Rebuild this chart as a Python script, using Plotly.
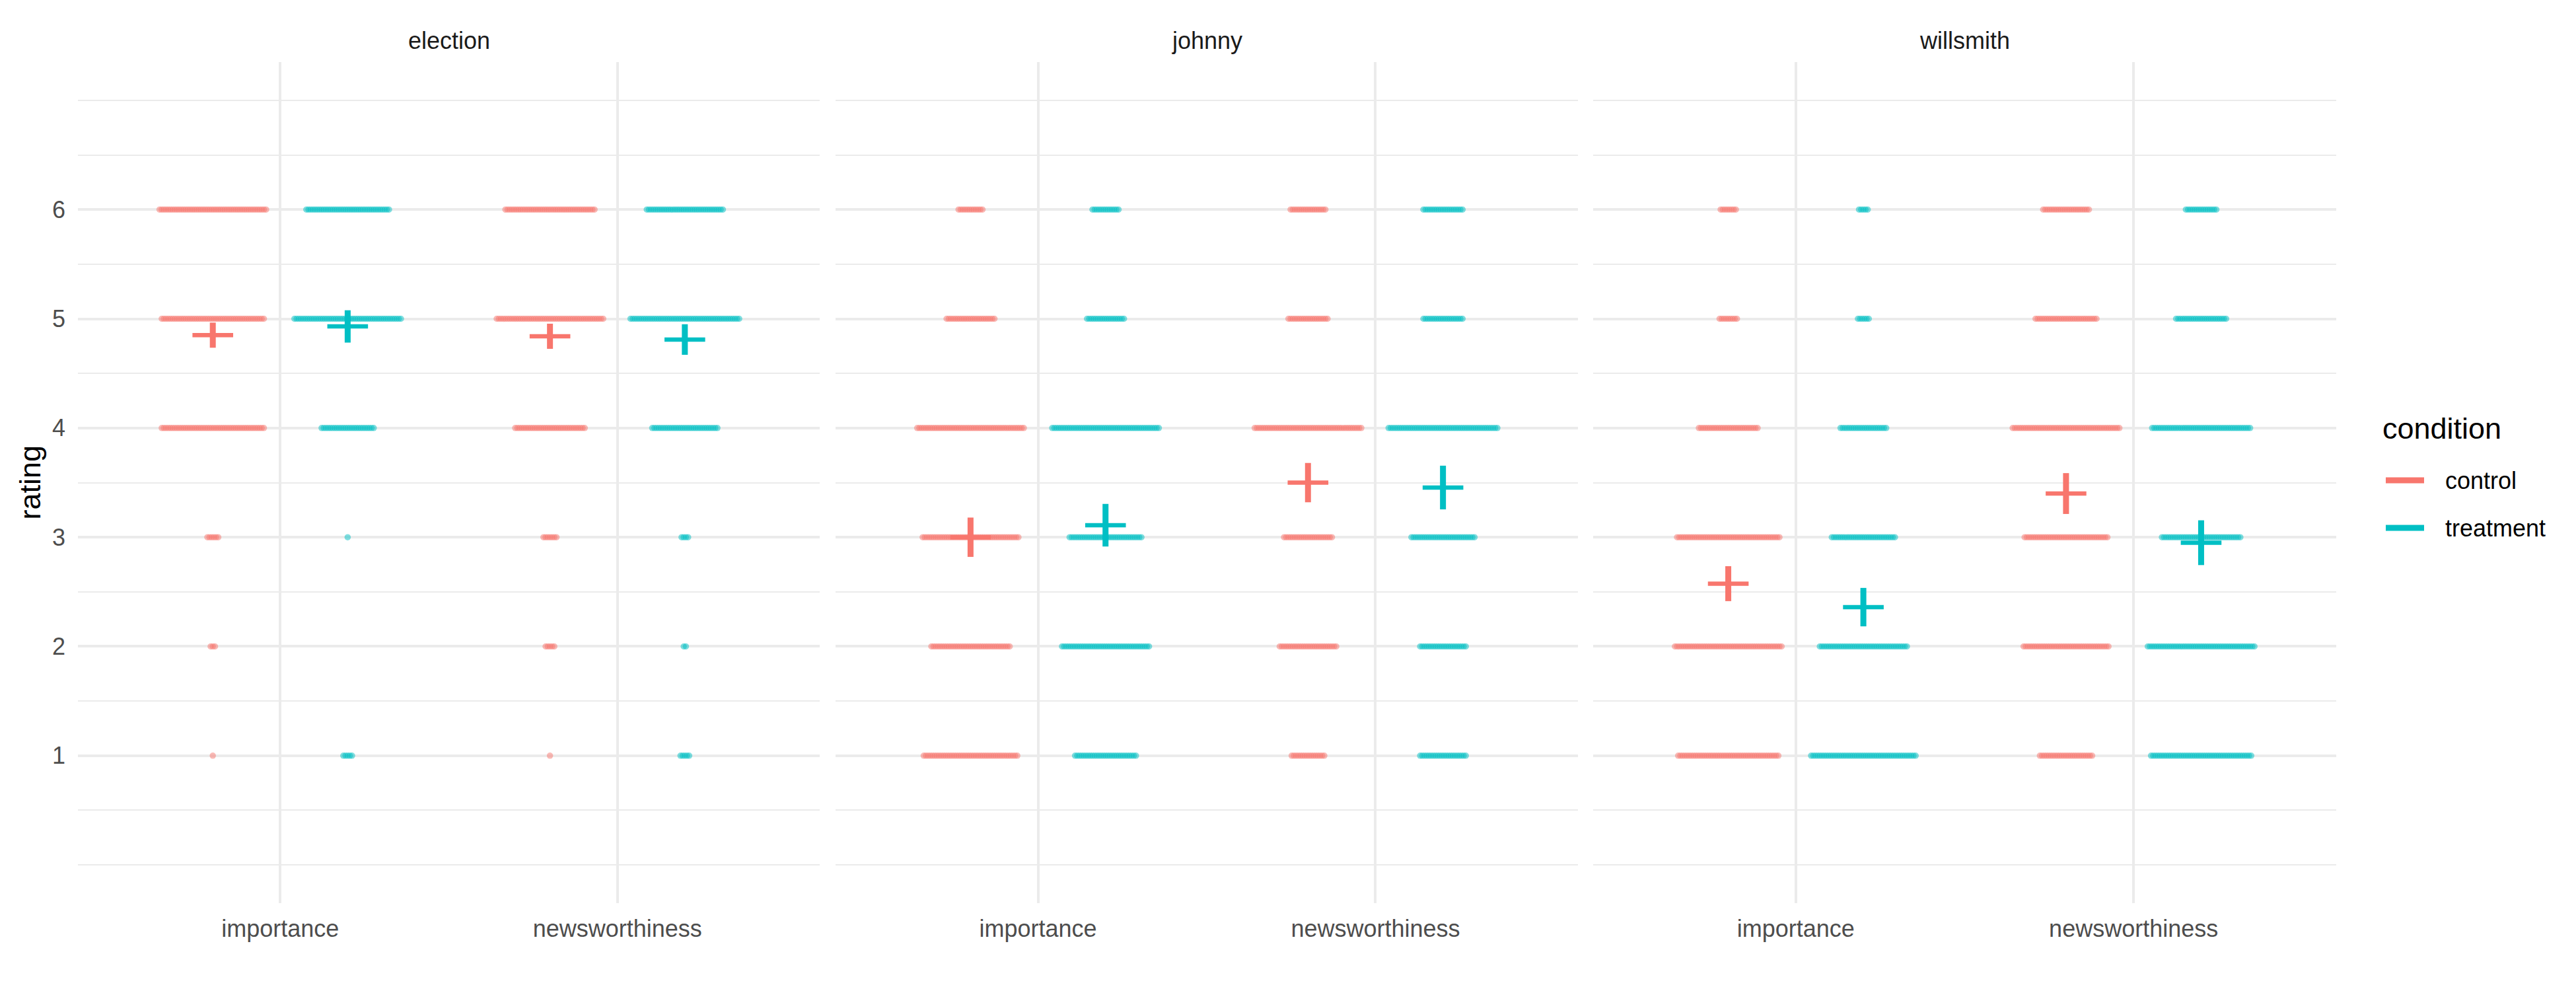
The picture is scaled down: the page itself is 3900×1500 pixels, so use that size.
import plotly.graph_objects as go

# ---------------- data ----------------
TOPICS = ["election", "johnny", "willsmith"]
MEASURES = ["importance", "newsworthiness"]
CONDITIONS = ["control", "treatment"]
RATINGS = [1, 2, 3, 4, 5, 6]

# number of respondents giving each rating 1..6
election_control_importance = [1, 3, 6, 48, 48, 50]
election_treatment_importance = [5, 0, 1, 25, 50, 39]
election_control_newsworthiness = [1, 5, 7, 33, 50, 42]
election_treatment_newsworthiness = [5, 2, 4, 31, 51, 36]

johnny_control_importance = [44, 37, 45, 50, 23, 12]
johnny_treatment_importance = [29, 41, 34, 50, 18, 13]
johnny_control_newsworthiness = [16, 27, 23, 50, 19, 17]
johnny_treatment_newsworthiness = [22, 22, 30, 51, 19, 19]

willsmith_control_importance = [47, 50, 48, 28, 9, 8]
willsmith_treatment_importance = [49, 41, 30, 22, 6, 5]
willsmith_control_newsworthiness = [25, 40, 39, 50, 29, 22]
willsmith_treatment_newsworthiness = [47, 50, 37, 46, 24, 15]

# mean rating and interval half-width, order: [importance, newsworthiness]
election_control_mean = [4.85, 4.84]
election_treatment_mean = [4.93, 4.81]
johnny_control_mean = [3.00, 3.50]
johnny_treatment_mean = [3.11, 3.455]
willsmith_control_mean = [2.575, 3.40]
willsmith_treatment_mean = [2.36, 2.95]

election_control_ci = [0.115, 0.115]
election_treatment_ci = [0.148, 0.14]
johnny_control_ci = [0.18, 0.18]
johnny_treatment_ci = [0.195, 0.20]
willsmith_control_ci = [0.16, 0.187]
willsmith_treatment_ci = [0.176, 0.205]

COUNTS = {
    ("election", "control", "importance"): election_control_importance,
    ("election", "treatment", "importance"): election_treatment_importance,
    ("election", "control", "newsworthiness"): election_control_newsworthiness,
    ("election", "treatment", "newsworthiness"): election_treatment_newsworthiness,
    ("johnny", "control", "importance"): johnny_control_importance,
    ("johnny", "treatment", "importance"): johnny_treatment_importance,
    ("johnny", "control", "newsworthiness"): johnny_control_newsworthiness,
    ("johnny", "treatment", "newsworthiness"): johnny_treatment_newsworthiness,
    ("willsmith", "control", "importance"): willsmith_control_importance,
    ("willsmith", "treatment", "importance"): willsmith_treatment_importance,
    ("willsmith", "control", "newsworthiness"): willsmith_control_newsworthiness,
    ("willsmith", "treatment", "newsworthiness"): willsmith_treatment_newsworthiness,
}
MEANS = {
    ("election", "control"): election_control_mean,
    ("election", "treatment"): election_treatment_mean,
    ("johnny", "control"): johnny_control_mean,
    ("johnny", "treatment"): johnny_treatment_mean,
    ("willsmith", "control"): willsmith_control_mean,
    ("willsmith", "treatment"): willsmith_treatment_mean,
}
CIS = {
    ("election", "control"): election_control_ci,
    ("election", "treatment"): election_treatment_ci,
    ("johnny", "control"): johnny_control_ci,
    ("johnny", "treatment"): johnny_treatment_ci,
    ("willsmith", "control"): willsmith_control_ci,
    ("willsmith", "treatment"): willsmith_treatment_ci,
}

# ---------------- style ----------------
COLORS = {"control": "#F8766D", "treatment": "#00BFC4"}
DODGE = {"control": -0.2, "treatment": 0.2}
SPACING = 0.00645          # horizontal spacing of points (x units)
FONT = "Liberation Sans, Arial, sans-serif"
GRID = "#EBEBEB"
SMALL, BIG = 36, 45

OFF = 8                    # page body margin
W, H = 3900 - OFF, 1500 - OFF
ML, MT = 118 - OFF, 94 - OFF
MR = W - (3537 - OFF)
MB = H - (1367 - OFF)
PW = W - ML - MR
PH = H - MT - MB
panel_px = [(118, 1241), (1265, 2389), (2412, 3537)]
domains = [[(a - 118) / PW, (b - 118) / PW] for a, b in panel_px]
domains[-1][1] = 1.0


def px_x(v):
    return (v - 118) / PW


def px_y(v):
    return (1367 - v) / PH


fig = go.Figure()

for p, topic in enumerate(TOPICS):
    xa = "x" if p == 0 else f"x{p+1}"
    ya = "y" if p == 0 else f"y{p+1}"
    # individual ratings
    for cond in CONDITIONS:
        xs, ys = [], []
        for m, meas in enumerate(MEASURES):
            counts = COUNTS[(topic, cond, meas)]
            center = (m + 1) + DODGE[cond]
            for r, n in zip(RATINGS, counts):
                for i in range(n):
                    xs.append(center + (i - (n - 1) / 2) * SPACING)
                    ys.append(r)
        fig.add_trace(go.Scatter(
            x=xs, y=ys, mode="markers", xaxis=xa, yaxis=ya, showlegend=False,
            marker=dict(size=9.5, color=COLORS[cond], opacity=0.5, line=dict(width=0)),
            hoverinfo="skip"))
    # mean + interval crosses
    for cond in CONDITIONS:
        fig.add_trace(go.Scatter(
            x=[(m + 1) + DODGE[cond] for m in range(len(MEASURES))],
            y=MEANS[(topic, cond)],
            mode="markers", xaxis=xa, yaxis=ya, showlegend=False,
            marker=dict(symbol="line-ew", size=44, color=COLORS[cond],
                        line=dict(width=6.5, color=COLORS[cond])),
            error_y=dict(type="data", array=CIS[(topic, cond)], symmetric=True,
                         color=COLORS[cond], thickness=9, width=0)))

    axis_x = dict(domain=domains[p], range=[0.4, 2.6], tickmode="array",
                  tickvals=[1, 2], ticktext=MEASURES, showgrid=True, gridcolor=GRID,
                  gridwidth=4, zeroline=False, showline=False, ticks="",
                  tickfont=dict(family=FONT, size=SMALL, color="#4D4D4D"),
                  ticklabelstandoff=14, anchor=ya)
    axis_y = dict(range=[-0.35, 7.35], tickmode="array", tickvals=RATINGS,
                  showgrid=True, gridcolor=GRID, gridwidth=4, zeroline=False,
                  showline=False, ticks="", anchor=xa,
                  minor=dict(tickmode="array",
                             tickvals=[0, 0.5, 1.5, 2.5, 3.5, 4.5, 5.5, 6.5, 7],
                             showgrid=True, gridcolor=GRID, gridwidth=2),
                  tickfont=dict(family=FONT, size=SMALL, color="#4D4D4D"),
                  ticklabelstandoff=18, showticklabels=(p == 0))
    if p > 0:
        axis_y["matches"] = "y"
    fig.update_layout(**{("xaxis" if p == 0 else f"xaxis{p+1}"): axis_x,
                         ("yaxis" if p == 0 else f"yaxis{p+1}"): axis_y})
    # facet strip title
    fig.add_annotation(x=sum(domains[p]) / 2, y=px_y(61), xref="paper",
                       yref="paper", text=topic, showarrow=False,
                       font=dict(family=FONT, size=SMALL, color="#1A1A1A"),
                       xanchor="center", yanchor="middle")

# y axis title
fig.add_annotation(x=px_x(45), y=0.5, xref="paper", yref="paper",
                   text="rating", textangle=-90, showarrow=False,
                   font=dict(family=FONT, size=BIG, color="black"),
                   xanchor="center", yanchor="middle")

# legend (ggplot style)
fig.add_annotation(x=px_x(3605), y=px_y(648), xref="paper", yref="paper",
                   text="condition", showarrow=False, xanchor="left", yanchor="middle",
                   font=dict(family=FONT, size=BIG, color="black"))
for cond, yy in zip(CONDITIONS, [727, 799]):
    fig.add_shape(type="line", xref="paper", yref="paper",
                  x0=px_x(3612), x1=px_x(3670), y0=px_y(yy), y1=px_y(yy),
                  line=dict(color=COLORS[cond], width=9))
    fig.add_annotation(x=px_x(3700), y=px_y(yy), xref="paper", yref="paper",
                       text=cond, showarrow=False, xanchor="left", yanchor="middle",
                       font=dict(family=FONT, size=SMALL, color="black"))

fig.update_layout(width=W, height=H, autosize=False,
                  margin=dict(l=ML, r=MR, t=MT, b=MB, pad=0),
                  paper_bgcolor="white", plot_bgcolor="white",
                  showlegend=False, font=dict(family=FONT))

fig.write_html("out.html")
